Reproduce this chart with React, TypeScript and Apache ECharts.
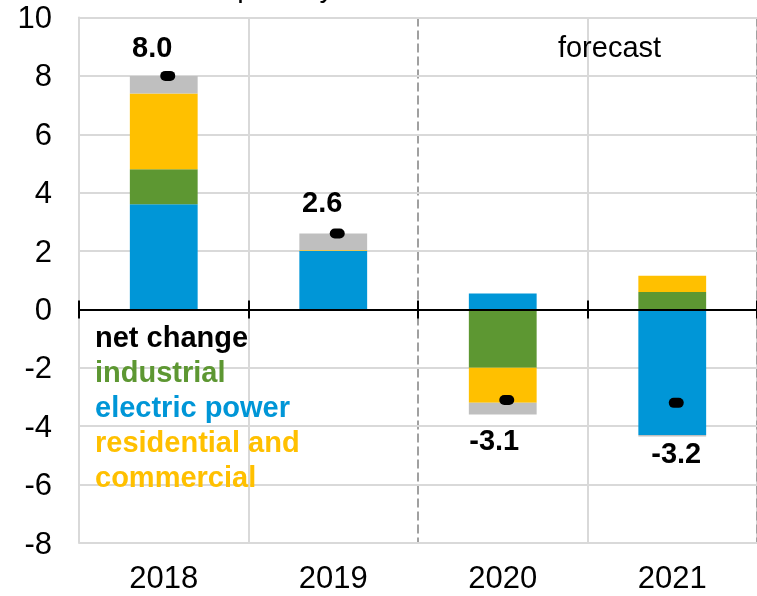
import React, { useEffect, useRef } from 'react';
import * as echarts from 'echarts';

const categories = ['2018', '2019', '2020', '2021'];
const electricPower = [3.6, 2.0, 0.55, -4.3];
const industrial = [1.2, 0.0, -2.0, 0.6];
const residentialCommercial = [2.6, 0.03, -1.2, 0.55];
const otherSectors = [0.6, 0.57, -0.4, -0.05];
const netChange = [8.0, 2.6, -3.1, -3.2];
const yMin = -8;
const yMax = 10;
const yInterval = 2;
const unitTitle = 'billion cubic feet per day';
const forecastLabel = 'forecast';
const legendLines = ['net change', 'industrial', 'electric power', 'residential and', 'commercial'];

const FONT = "'Liberation Sans', Arial, sans-serif";
const BLUE = '#0096d7';
const GREEN = '#5d9732';
const YELLOW = '#ffc000';
const GREY = '#bfbfbf';
const GRID = '#d9d9d9';
const legendColors = ['#000000', GREEN, BLUE, YELLOW, YELLOW];
const labelOffsets = [[-15.5, -28.5], [-15, -32], [-12.5, 40], [0, 50]];

export default function App() {
  const ref = useRef<HTMLDivElement>(null);
  useEffect(() => {
    if (!ref.current) return;
    const chart = echarts.init(ref.current, undefined, { renderer: 'svg' });
    const barBase = {
      type: 'bar' as const,
      stack: 'total',
      barWidth: '40%',
      xAxisIndex: 0,
      yAxisIndex: 0,
    };
    const legendGraphics = legendLines.map((t, i) => ({
      type: 'text',
      left: 95,
      top: 322 + i * 35,
      style: {
        text: t,
        fill: legendColors[i],
        font: `bold 29px ${FONT}`,
      },
      z: 20,
    }));
    chart.setOption({
      animation: false,
      grid: { left: 79, right: -8, top: 17.5, bottom: 53, containLabel: false },
      xAxis: [
        {
          type: 'category',
          data: categories,
          position: 'bottom',
          axisLine: { show: true, onZero: true, onZeroAxisIndex: 0, lineStyle: { color: '#000', width: 2 } },
          axisTick: { show: true, inside: false, length: 9, lineStyle: { color: '#000', width: 2 } },
          axisLabel: { show: false },
          splitLine: { show: false },
          z: 5,
        },
        {
          type: 'category',
          data: categories,
          position: 'bottom',
          axisLine: { show: true, onZero: true, onZeroAxisIndex: 0, lineStyle: { color: '#000', width: 2 } },
          axisTick: { show: true, inside: true, length: 9, lineStyle: { color: '#000', width: 2 } },
          axisLabel: { show: false },
          splitLine: { show: false },
          z: 5,
        },
        {
          type: 'category',
          data: categories,
          position: 'bottom',
          axisLine: { show: false, onZero: false },
          axisTick: { show: false },
          axisLabel: { show: true, fontSize: 31, fontFamily: FONT, color: '#000', margin: 19 },
          splitLine: {
            show: true,
            lineStyle: { color: [GRID, GRID, 'rgba(0,0,0,0)', GRID, GRID], width: 2 },
          },
        },
        {
          type: 'value',
          min: 0,
          max: 4,
          interval: 2,
          position: 'top',
          axisLine: { show: false, onZero: false },
          axisTick: { show: false },
          axisLabel: { show: false },
          splitLine: { show: true, lineStyle: { color: '#a0a0a0', width: 2, type: [9, 4] } },
        },
      ],
      yAxis: {
        type: 'value',
        min: yMin,
        max: yMax,
        interval: yInterval,
        axisLine: { show: true, onZero: false, lineStyle: { color: GRID, width: 2 } },
        axisTick: { show: false },
        axisLabel: { fontSize: 31, fontFamily: FONT, color: '#000', margin: 27 },
        splitLine: { show: true, lineStyle: { color: GRID, width: 2 } },
        z: 1,
      },
      series: [
        { ...barBase, name: 'electric power', data: electricPower, itemStyle: { color: BLUE } },
        { ...barBase, name: 'industrial', data: industrial, itemStyle: { color: GREEN } },
        { ...barBase, name: 'residential and commercial', data: residentialCommercial, itemStyle: { color: YELLOW } },
        { ...barBase, name: 'other', data: otherSectors, itemStyle: { color: GREY } },
        {
          type: 'scatter',
          name: 'net change',
          xAxisIndex: 0,
          yAxisIndex: 0,
          symbol: 'path://M5,0 H10 A5,5 0 0 1 10,10 H5 A5,5 0 0 1 5,0 Z',
          symbolSize: [15, 10],
          symbolKeepAspect: false,
          symbolOffset: [4, 0],
          itemStyle: { color: '#000', opacity: 1 },
          z: 10,
          data: netChange.map((v, i) => ({
            value: v,
            label: { offset: labelOffsets[i] },
          })),
          label: {
            show: true,
            position: 'inside',
            formatter: (p: any) => Number(p.value).toFixed(1),
            fontSize: 29,
            fontWeight: 'bold',
            fontFamily: FONT,
            color: '#000',
            opacity: 1,
          },
          emphasis: { disabled: true },
        },
      ],
      graphic: [
        {
          type: 'text',
          x: 334,
          y: -28,
          style: {
            text: unitTitle,
            fill: '#000',
            font: `29px ${FONT}`,
            textAlign: 'right',
            verticalAlign: 'top',
          },
          z: 20,
        },
        {
          type: 'text',
          x: 609.5,
          y: 32.5,
          style: {
            text: forecastLabel,
            fill: '#000',
            font: `29px ${FONT}`,
            textAlign: 'center',
            verticalAlign: 'top',
          },
          z: 20,
        },
        ...legendGraphics,
      ],
    });
    return () => chart.dispose();
  }, []);
  return <div ref={ref} style={{ position: 'fixed', left: 0, top: 0, width: 757, height: 596 }} />;
}
